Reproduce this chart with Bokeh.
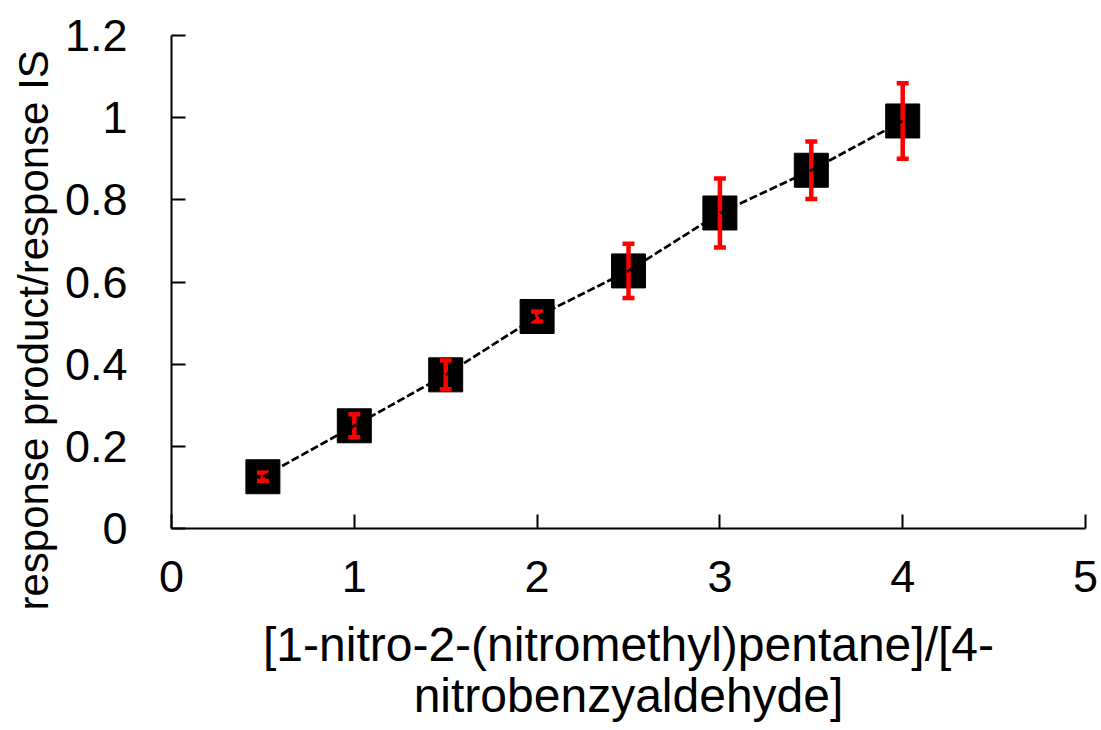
from bokeh.plotting import figure
from bokeh.models import ColumnDataSource, Range1d, FixedTicker, Whisker, TeeHead, Title
from bokeh.embed import file_html
from bokeh.resources import INLINE

# Data
x_ratio = [0.5, 1.0, 1.5, 2.0, 2.5, 3.0, 3.5, 4.0]
y_response = [0.126, 0.250, 0.374, 0.516, 0.627, 0.768, 0.872, 0.992]
y_error = [0.010, 0.028, 0.035, 0.012, 0.066, 0.084, 0.070, 0.092]

x_ticks = [0, 1, 2, 3, 4, 5]
y_ticks = [0, 0.2, 0.4, 0.6, 0.8, 1.0, 1.2]
y_tick_labels = ["0", "0.2", "0.4", "0.6", "0.8", "1", "1.2"]

x_title = "[1-nitro-2-(nitromethyl)pentane]/[4-\nnitrobenzyaldehyde]"
y_title = "response product/response IS"

FONT = "Liberation Sans"

src = ColumnDataSource(data=dict(
    x=x_ratio,
    y=y_response,
    lo=[v - e for v, e in zip(y_response, y_error)],
    hi=[v + e for v, e in zip(y_response, y_error)],
))

p = figure(width=1101, height=730, frame_width=914, frame_height=493,
           output_backend="svg", toolbar_location=None,
           x_range=Range1d(0, 5), y_range=Range1d(0, 1.2),
           min_border_left=171, min_border_right=16, min_border_top=35, min_border_bottom=202)

p.xgrid.visible = False
p.ygrid.visible = False
p.outline_line_color = None
p.background_fill_color = "white"
p.border_fill_color = "white"

# markers
p.scatter("x", "y", source=src, marker="square", size=34, fill_color="black",
          line_color="black", line_width=1)

# error bars
wh = Whisker(source=src, base="x", upper="hi", lower="lo",
             line_color="red", line_width=4.5,
             upper_head=TeeHead(size=12, line_color="red", line_width=4.5),
             lower_head=TeeHead(size=12, line_color="red", line_width=4.5))
wh.level = "glyph"
p.add_layout(wh)

# dashed connecting line
ln = p.line("x", "y", source=src, line_color="black", line_width=2.7, line_dash="8 3")
ln.level = "overlay"

for ax in (p.xaxis[0], p.yaxis[0]):
    ax.axis_line_color = "black"
    ax.axis_line_width = 2
    ax.major_tick_line_color = "black"
    ax.major_tick_line_width = 2
    ax.major_tick_in = 14
    ax.major_tick_out = 0
    ax.minor_tick_line_color = None
    ax.major_label_text_font = FONT
    ax.major_label_text_font_size = "45px"
    ax.major_label_text_color = "black"

p.xaxis.ticker = FixedTicker(ticks=x_ticks)
p.yaxis.ticker = FixedTicker(ticks=y_ticks)
p.yaxis.major_label_overrides = {t: l for t, l in zip(y_ticks, y_tick_labels)}

p.xaxis.major_label_standoff = 32
p.yaxis.major_label_standoff = 44

p.xaxis.axis_label = x_title
p.xaxis.axis_label_text_font = FONT
p.xaxis.axis_label_text_font_style = "normal"
p.xaxis.axis_label_text_color = "black"
p.xaxis.axis_label_text_font_size = "48px"
p.xaxis.axis_label_standoff = 23
p.xaxis.axis_label_text_line_height = 0.97

# y title: placed in the left panel, starting below the frame bottom like the reference
p.add_layout(Title(text=y_title, align="left", offset=-82, standoff=9,
                   text_font=FONT, text_font_size="42px", text_font_style="normal",
                   text_color="black"), "left")

open("out.html", "w").write(file_html(p, INLINE))
